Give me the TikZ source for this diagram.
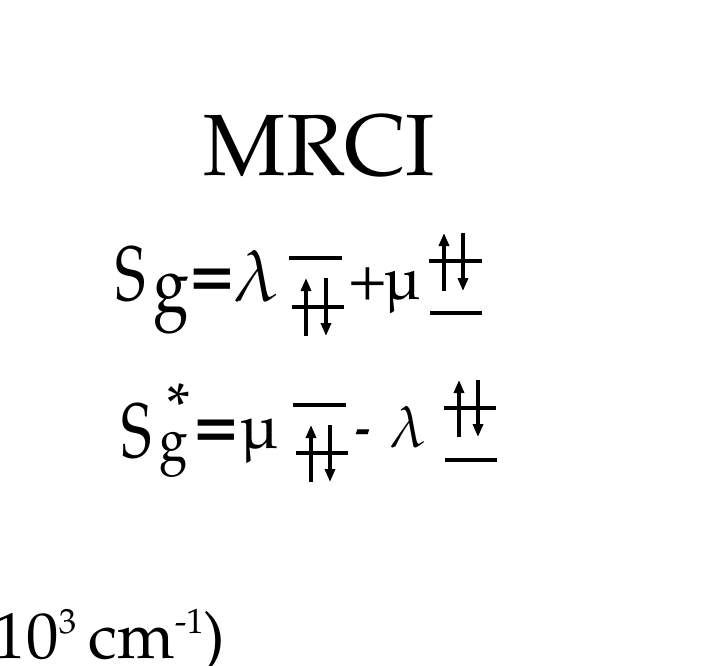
\documentclass[tikz,border=0pt]{standalone}
\usepackage[T1]{fontenc}
\usepackage{mathpazo}
\usetikzlibrary{arrows.meta}
\newcommand{\myfs}[1]{\fontsize{#1}{#1}\selectfont}
\tikzset{
  gl/.style={inner sep=0pt, outer sep=0pt},
  level/.style={line width=3.5pt},
  elec/.style={line width=4pt, -{Triangle[width=10pt,length=13pt]}}
}
\begin{document}
\begin{tikzpicture}[x=1pt,y=-1pt]
\useasboundingbox (0,0) rectangle (718,665);
% title
\node[gl, anchor=base, font=\myfs{87}] (title) at (319.5,175) {MRCI};
% line 1
\node[gl, font=\myfs{77}] (s1) at (131,274.5) {\scalebox{0.75}[1]{S}};
\node[gl, font=\myfs{80}] (g1) at (171,303) {\scalebox{0.8}[1]{g}};
\node[gl, font=\myfs{72}\bfseries] (eq1) at (212,283) {=};
\node[gl, font=\myfs{72}] (lam1) at (256,276.5) {$\lambda$};
\node[gl, font=\myfs{64}] (plus1) at (368,284) {+};
\node[gl, font=\myfs{60}] (mu1) at (403,292) {\textmu};
% line 2
\node[gl, font=\myfs{77}] (s2) at (136.5,432) {\scalebox{0.75}[1]{S}};
\node[gl, font=\myfs{62}] (star2) at (179,405.5) {*};
\node[gl, font=\myfs{60}] (g2) at (174,454) {\scalebox{0.85}[1]{g}};
\node[gl, font=\myfs{72}\bfseries] (eq2) at (216,434) {=};
\node[gl, font=\myfs{63}] (mu2) at (259,441) {\textmu};
\node[gl, font=\myfs{45}\bfseries] (minus2) at (363,437) {-};
\node[gl, font=\myfs{58}] (lam2) at (408.5,427.5) {$\lambda$};
% axis label fragment
\node[gl, anchor=base west, font=\myfs{65}] (unit) at (-6,658)
  {10\raisebox{25pt}{\myfs{35}3}\hspace{12pt}cm\raisebox{25pt}{\myfs{35}-1})};
% level diagram 1
\draw[level] (289,258) -- (342,258);
\draw[level] (292,307) -- (344,307);
\draw[elec] (306,336) -- (306,278);
\draw[elec] (326,278) -- (326,336);
% level diagram 2
\draw[level] (429,261) -- (482,261);
\draw[level] (430,313) -- (482,313);
\draw[elec] (444,291) -- (444,233);
\draw[elec] (463,233) -- (463,291);
% level diagram 3
\draw[level] (293,405) -- (346,405);
\draw[level] (296,453) -- (348,453);
\draw[elec] (311,482) -- (311,425);
\draw[elec] (330,425) -- (330,482);
% level diagram 4
\draw[level] (444,408) -- (496,408);
\draw[level] (445,460) -- (497,460);
\draw[elec] (459,437) -- (459,380);
\draw[elec] (478,380) -- (478,437);
\end{tikzpicture}
\end{document}
